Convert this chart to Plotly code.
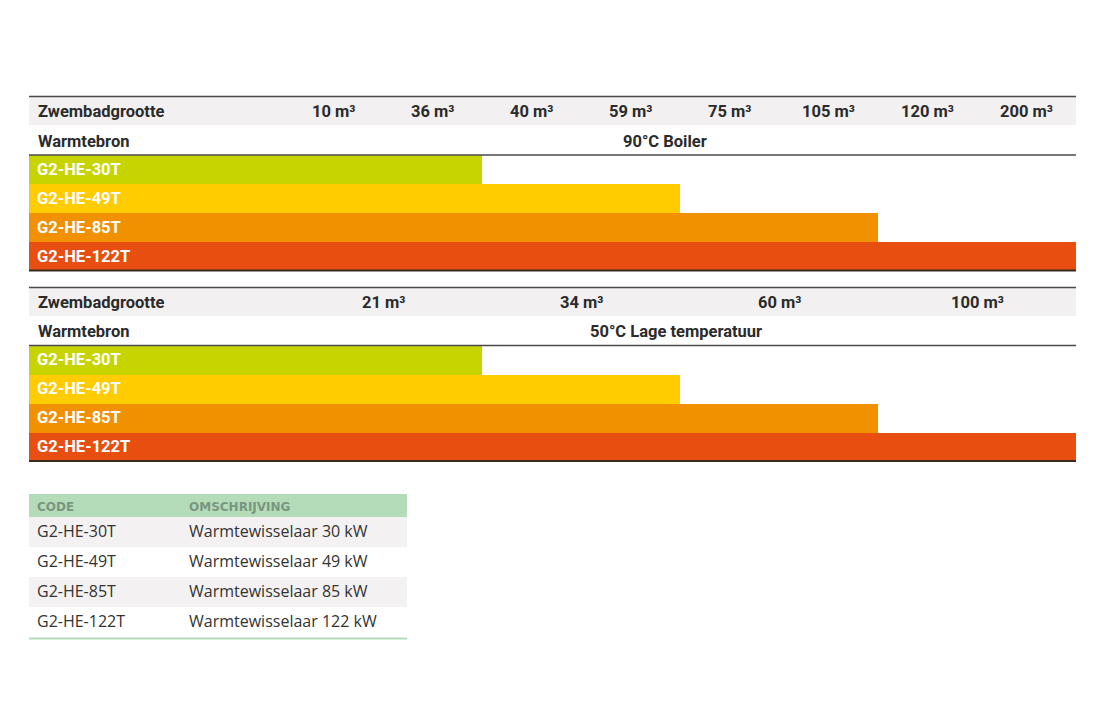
import plotly.graph_objects as go

# ---------------- data ----------------
models = ["G2-HE-30T", "G2-HE-49T", "G2-HE-85T", "G2-HE-122T"]
model_colors = ["#c8d400", "#ffcc00", "#f29100", "#e84e0f"]

boiler_source = "90°C Boiler"
boiler_sizes = ["10 m³", "36 m³", "40 m³", "59 m³", "75 m³", "105 m³", "120 m³", "200 m³"]
boiler_max = ["36 m³", "59 m³", "105 m³", "200 m³"]

lowtemp_source = "50°C Lage temperatuur"
lowtemp_sizes = ["21 m³", "34 m³", "60 m³", "100 m³"]
lowtemp_max = ["21 m³", "34 m³", "60 m³", "100 m³"]

table_headers = ["CODE", "OMSCHRIJVING"]
descriptions = ["Warmtewisselaar 30 kW", "Warmtewisselaar 49 kW",
                "Warmtewisselaar 85 kW", "Warmtewisselaar 122 kW"]

row_label_size = "Zwembadgrootte"
row_label_source = "Warmtebron"

# ---------------- layout constants (screen pixels) ----------------
W, H = 1100, 720
OFF = 8  # page body margin
X0, X1, XLAB = 29, 1076, 284
FONT = "Roboto"
FS = 16.5
DARK = "#2b2b2b"
LINE = "#4a4a4a"
BAND = "#f2f0f1"


def px(x):
    return (x - OFF) / W


def py(y):
    return 1 - (y - OFF) / H


fig = go.Figure()
shapes = []
annotations = []

sections = [
    dict(sizes=boiler_sizes, maxes=boiler_max, source=boiler_source, src_x=665,
         top=96.5, hdr_y=112, src_y=141, mid=155, bot=270.5, ax=""),
    dict(sizes=lowtemp_sizes, maxes=lowtemp_max, source=lowtemp_source, src_x=676,
         top=287.5, hdr_y=302, src_y=332, mid=345.5, bot=461, ax="2"),
]

for s in sections:
    n = len(s["sizes"])
    lab_w = n * (XLAB - X0) / (X1 - XLAB)  # label column in column units
    xa, ya = "x" + s["ax"], "y" + s["ax"]
    covered = [s["sizes"].index(m) + 1 for m in s["maxes"]]
    fig.add_trace(go.Bar(
        y=models, x=[c + lab_w for c in covered], base=-lab_w,
        orientation="h", marker=dict(color=model_colors, line=dict(width=0)),
        xaxis=xa, yaxis=ya, showlegend=False, hoverinfo="skip",
    ))
    xkey = "xaxis" + s["ax"]
    ykey = "yaxis" + s["ax"]
    fig.update_layout(**{
        xkey: dict(domain=[px(X0), px(X1)], range=[-lab_w, n], visible=False,
                   fixedrange=True, anchor=ya),
        ykey: dict(domain=[py(s["bot"]), py(s["mid"])], type="category",
                   categoryorder="array", categoryarray=models[::-1],
                   visible=False, fixedrange=True, anchor=xa),
    })
    # header band and lines
    shapes.append(dict(type="rect", xref="paper", yref="paper", x0=px(X0), x1=px(X1),
                       y0=py(s["top"] + 28.5), y1=py(s["top"] + 0.5),
                       fillcolor=BAND, line=dict(width=0), layer="below"))
    for yy, col, wd in [(s["top"], LINE, 1.6), (s["mid"], LINE, 1.6), (s["bot"], "#3a2a22", 2)]:
        shapes.append(dict(type="line", xref="paper", yref="paper", x0=px(X0), x1=px(X1),
                           y0=py(yy), y1=py(yy), line=dict(color=col, width=wd)))
    # row headers
    annotations.append(dict(text=row_label_size, xref="paper", yref="paper", x=px(36),
                            y=py(s["hdr_y"]), xanchor="left", yanchor="middle", showarrow=False,
                            font=dict(family=FONT, size=FS, color=DARK, weight=700)))
    annotations.append(dict(text=row_label_source, xref="paper", yref="paper", x=px(36),
                            y=py(s["src_y"]), xanchor="left", yanchor="middle", showarrow=False,
                            font=dict(family=FONT, size=FS, color=DARK, weight=700)))
    annotations.append(dict(text=s["source"], xref="paper", yref="paper", x=px(s["src_x"]),
                            y=py(s["src_y"]), xanchor="center", yanchor="middle", showarrow=False,
                            font=dict(family=FONT, size=FS, color=DARK, weight=700)))
    # size column labels
    for i, lab in enumerate(s["sizes"]):
        annotations.append(dict(text=lab, xref=xa, yref="paper", x=i + 0.5, y=py(s["hdr_y"]),
                                xanchor="center", yanchor="middle", showarrow=False,
                                font=dict(family=FONT, size=FS, color=DARK, weight=700)))
    # model labels inside bars
    for m in models:
        annotations.append(dict(text=m, xref=xa, yref=ya, x=-lab_w, y=m, xanchor="left",
                                xshift=6, yanchor="middle", showarrow=False,
                                font=dict(family=FONT, size=FS, color="white", weight=700)))

# ---------------- code table ----------------
fills = ["#f3f1f2" if i % 2 == 0 else "white" for i in range(len(models))]
fig.add_trace(go.Table(
    domain=dict(x=[px(X0), px(407)], y=[py(639), py(494)]),
    columnwidth=[152, 226],
    header=dict(values=table_headers, fill_color="#b5dcb9", align="left", height=23,
                line=dict(width=0),
                font=dict(family="DejaVu Sans", size=12, color="#7a9680", weight=700)),
    cells=dict(values=[models, descriptions], fill_color=[fills, fills], align="left",
               height=30, line=dict(width=0),
               font=dict(family="Open Sans", size=16, color="#333333")),
))
shapes.append(dict(type="line", xref="paper", yref="paper", x0=px(X0), x1=px(407),
                   y0=py(638.5), y1=py(638.5), line=dict(color="#b5dcb9", width=2)))

fig.update_layout(
    width=W, height=H, margin=dict(l=0, r=0, t=0, b=0),
    paper_bgcolor="white", plot_bgcolor="rgba(0,0,0,0)",
    bargap=0, barmode="overlay", showlegend=False,
    shapes=shapes, annotations=annotations,
)

fig.write_html("out.html")
